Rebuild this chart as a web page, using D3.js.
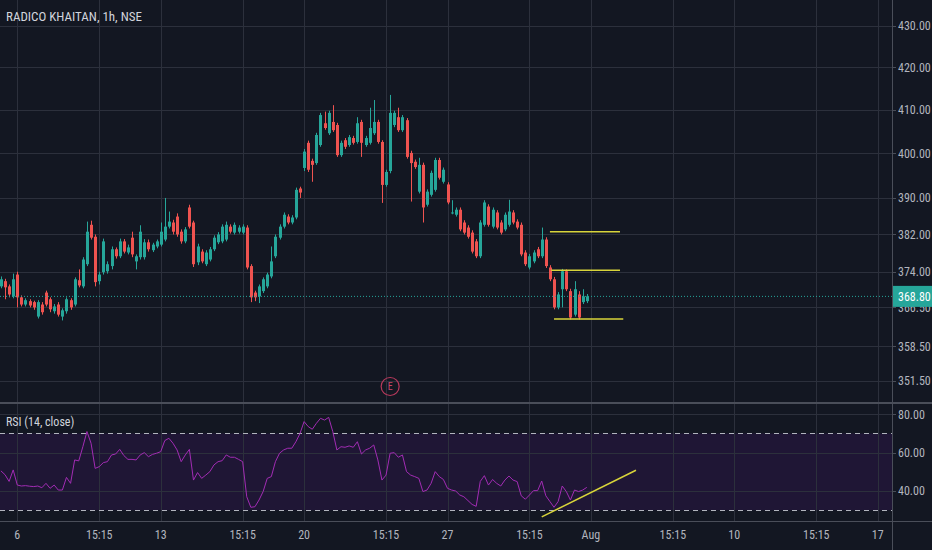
<!DOCTYPE html>
<html>
<head>
<meta charset="utf-8">
<script src="https://cdn.jsdelivr.net/npm/d3@7"></script>
<style>
  body { margin: 0; background: #131722; overflow: hidden; }
  svg text { font-family: "Liberation Sans Narrow", "Roboto Condensed", "DejaVu Sans Condensed", "Roboto", sans-serif; }
</style>
</head>
<body>
<div id="chart"></div>
<script>
let width = 932;
let height = 550;
let axisX = 892;
let mainBottom = 402;
let rsiTop = 404;
let rsiBottom = 521;

// hourly bars, index 0 = Mon 6 Jul 9:15, 7 bars per session
let firstBar = -4;
let opens = [370.9, 372.0, 370.9, 368.8,
  373.4, 368.6, 367.1, 367.8, 367.6, 364.6, 367.1, 369.6, 368.2, 365.7, 367.1, 364.6, 365.7, 368.0,
  367.1, 372.2, 370.9, 375.6, 384.1, 381.5, 372.0, 373.9, 374.1, 375.2, 378.8, 377.3, 380.5, 378.1,
  381.3, 376.2, 377.1, 377.1, 380.3, 378.6, 379.4, 379.8, 380.9, 383.7, 384.6, 385.9, 382.6, 380.5,
  387.9, 384.6, 376.0, 378.3, 375.6, 376.6, 378.8, 380.3, 380.5, 380.9, 383.7, 382.4, 382.6, 382.4,
  383.5, 375.2, 369.6, 368.8, 369.9, 370.9, 373.0, 377.3, 381.3, 383.7, 385.9, 384.6, 385.7, 392.1,
  396.7, 402.4, 398.3, 397.8, 401.9, 406.9, 404.6, 407.2, 406.5, 399.6, 403.0, 401.9, 403.5, 402.6,
  407.2, 401.9, 402.4, 404.6, 407.2, 402.6, 392.9, 396.0, 406.5, 408.3, 405.3, 407.6, 400.1, 398.1,
  391.4, 397.4, 388.5, 390.7, 391.8, 398.5, 393.6, 393.0, 386.8, 386.3, 387.4, 384.6, 383.5, 382.4,
  380.5, 377.3, 384.1, 388.1, 383.7, 386.8, 384.6, 383.1, 384.1, 386.8, 384.8, 384.1, 378.1, 374.9,
  376.2, 378.8, 377.3, 380.9, 374.9, 372.4, 366.5, 370.3, 374.1, 369.9, 365.0, 369.2, 367.6, 367.8];
let highs = [373.0, 372.5, 371.3, 373.6,
  374.0, 369.0, 368.4, 368.2, 367.9, 368.0, 367.6, 370.0, 368.6, 367.2, 367.6, 366.3, 368.6, 368.4,
  372.8, 374.5, 377.1, 384.8, 385.0, 382.0, 374.0, 381.1, 376.2, 379.4, 379.2, 381.1, 381.0, 379.8,
  382.6, 377.7, 384.0, 381.0, 380.9, 380.2, 380.9, 384.6, 390.0, 387.0, 385.2, 386.6, 383.1, 383.6,
  388.5, 385.0, 380.0, 378.8, 378.6, 379.3, 381.8, 382.5, 384.2, 384.8, 384.2, 384.6, 384.0, 384.2,
  384.0, 375.6, 370.0, 371.3, 372.8, 373.8, 379.4, 382.0, 384.2, 386.8, 386.4, 386.2, 392.3, 392.5,
  401.0, 402.9, 398.8, 404.7, 409.3, 409.6, 409.8, 411.1, 407.0, 402.9, 403.5, 404.2, 404.0, 408.3,
  407.7, 404.0, 410.5, 412.3, 407.7, 403.0, 396.3, 413.5, 409.8, 410.5, 408.8, 408.1, 400.6, 398.6,
  399.0, 397.9, 391.9, 396.1, 399.0, 399.0, 396.8, 393.5, 389.5, 387.9, 387.9, 385.1, 384.0, 382.9,
  381.0, 385.1, 389.5, 388.6, 387.9, 387.3, 385.1, 386.8, 389.6, 387.3, 385.3, 384.6, 378.6, 377.8,
  378.6, 379.3, 383.5, 381.4, 375.4, 372.9, 369.7, 374.6, 374.5, 370.4, 372.0, 369.9, 370.3, 369.3];
let lows = [370.5, 368.2, 368.6, 368.4,
  366.5, 366.7, 366.7, 366.5, 366.0, 364.2, 365.0, 366.7, 365.5, 365.2, 364.6, 363.8, 365.2, 366.0,
  366.7, 370.7, 370.5, 375.2, 380.9, 370.9, 371.3, 373.4, 373.6, 374.5, 376.8, 376.9, 377.9, 377.7,
  377.1, 374.5, 376.6, 376.6, 378.3, 378.2, 379.0, 379.4, 380.5, 383.3, 382.0, 381.5, 380.0, 380.1,
  383.3, 375.0, 375.4, 375.8, 375.2, 376.2, 378.4, 379.9, 380.1, 380.5, 382.2, 382.0, 382.2, 382.0,
  374.5, 367.6, 367.8, 367.4, 369.5, 370.5, 372.6, 376.9, 380.9, 383.3, 384.2, 384.2, 385.3, 390.0,
  396.0, 395.8, 393.6, 397.4, 401.5, 405.4, 404.2, 404.9, 399.2, 399.2, 401.0, 401.5, 402.0, 402.2,
  399.2, 401.5, 402.0, 404.2, 402.2, 388.9, 392.5, 395.5, 406.0, 404.9, 404.9, 398.8, 389.2, 396.5,
  391.0, 384.6, 388.1, 390.3, 391.4, 394.1, 393.2, 388.6, 386.4, 385.9, 382.7, 382.0, 381.1, 377.9,
  376.9, 376.9, 383.7, 383.7, 383.3, 383.1, 382.0, 382.7, 383.7, 384.2, 383.1, 377.3, 375.2, 374.5,
  375.8, 376.9, 376.9, 374.8, 372.0, 366.1, 366.1, 366.5, 369.9, 364.0, 364.6, 364.0, 367.2, 367.4];
let closes = [372.4, 370.7, 369.2, 372.4,
  368.6, 367.1, 368.0, 366.9, 366.5, 367.6, 365.5, 367.1, 366.1, 366.7, 365.0, 365.9, 368.2, 366.5,
  372.4, 371.1, 376.6, 382.6, 381.3, 371.8, 373.4, 380.5, 375.6, 378.8, 377.3, 380.5, 378.3, 379.2,
  377.7, 377.3, 382.6, 380.3, 378.8, 379.8, 380.5, 382.6, 383.7, 384.8, 382.6, 382.0, 380.5, 383.1,
  383.7, 375.6, 379.4, 376.2, 378.1, 378.8, 381.3, 382.0, 383.7, 384.1, 382.6, 384.1, 383.5, 383.7,
  374.9, 368.6, 368.6, 370.9, 372.4, 373.4, 376.2, 381.5, 383.7, 386.3, 384.6, 385.7, 391.8, 391.2,
  400.4, 396.3, 397.4, 404.2, 408.8, 405.8, 409.3, 405.3, 399.6, 402.4, 401.5, 403.7, 402.4, 406.9,
  402.4, 403.5, 405.8, 407.2, 402.6, 392.9, 395.8, 409.3, 409.3, 405.3, 408.3, 399.2, 397.8, 396.9,
  397.4, 387.9, 391.4, 395.6, 398.5, 394.5, 396.3, 389.0, 386.8, 387.4, 383.1, 382.4, 381.5, 378.3,
  377.3, 384.6, 389.0, 384.1, 387.4, 383.5, 382.4, 386.3, 387.0, 384.6, 383.5, 377.7, 375.6, 377.3,
  378.1, 377.3, 380.9, 375.2, 372.4, 366.5, 369.2, 374.1, 370.3, 364.4, 370.3, 364.4, 368.8, 368.8];
let rsiValues = [50.5, 48.5, 45.0, 51.0,
  43.1, 42.6, 42.8, 42.5, 42.3, 42.6, 41.7, 44.0, 41.4, 43.1, 40.5, 40.5, 47.1, 44.0,
  56.2, 55.7, 63.1, 71.0, 64.9, 51.8, 52.7, 54.8, 55.3, 58.8, 59.3, 61.7, 58.5, 56.5,
  56.5, 56.2, 58.8, 60.0, 57.9, 59.1, 59.7, 60.5, 66.3, 67.5, 64.9, 61.4, 55.3, 58.8,
  61.7, 45.7, 49.6, 46.6, 48.3, 50.1, 53.6, 55.3, 55.8, 58.8, 57.6, 57.6, 56.5, 55.3,
  37.0, 31.5, 31.8, 35.3, 39.7, 46.6, 47.5, 55.3, 59.7, 61.4, 62.3, 62.3, 65.7, 70.0,
  76.2, 73.6, 72.2, 75.3, 77.9, 77.0, 78.4, 71.0, 61.4, 63.1, 62.8, 63.5, 62.8, 65.7,
  59.3, 61.4, 62.3, 64.0, 56.2, 45.7, 48.3, 59.7, 60.0, 57.6, 58.8, 50.1, 48.3, 47.5,
  46.6, 39.7, 40.5, 44.0, 50.1, 47.5, 46.0, 41.4, 40.5, 40.0, 37.9, 37.0, 35.0, 33.0,
  32.0, 45.0, 48.0, 43.1, 46.0, 44.0, 42.6, 45.7, 47.8, 45.7, 44.9, 37.5, 35.7, 37.9,
  40.2, 40.2, 45.2, 37.5, 34.5, 31.5, 34.5, 42.6, 39.7, 35.3, 40.5, 39.7, 40.5, 41.9];

let priceTicks = [351.5, 358.5, 366.5, 374, 382, 390, 400, 410, 420, 430];
let rsiTicks = [40, 60, 80];
let timeTickBars = [0, 20, 35, 55, 70, 90, 105, 125, 140, 160, 175, 195, 210];
let timeTickLabels = ['6', '15:15', '13', '15:15', '20', '15:15', '27', '15:15', 'Aug', '15:15', '10', '15:15', '17'];

let lastPrice = 368.8;
let earningsBar = 91;
let levelLines = [
  { from: 130.0, to: 147.1, price: 382.6 },
  { from: 130.3, to: 147.1, price: 374.3 },
  { from: 131.0, to: 147.9, price: 364.1 }
];
let rsiTrend = { from: 128.0, to: 151.0, v0: 26.5, v1: 50.8 };

let up = '#26a69a';
let down = '#ef5350';
let gridColor = '#2c303c';
let textColor = '#b2b5be';

let svg = d3.select('#chart')
  .append('svg')
  .attr('width', width)
  .attr('height', height)
  .style('display', 'block');

svg.append('rect').attr('width', width).attr('height', height).attr('fill', '#131722');

let x = d3.scaleLinear().domain([0, 210]).range([17.3, 877.7]);
let y = d3.scaleLog().domain([351.5, 430]).range([381, 26]);
let yr = d3.scaleLinear().domain([40, 80]).range([491, 414.3]);

let defs = svg.append('defs');
defs.append('clipPath').attr('id', 'mainClip')
  .append('rect').attr('x', 0).attr('y', 0).attr('width', axisX).attr('height', mainBottom);
defs.append('clipPath').attr('id', 'rsiClip')
  .append('rect').attr('x', 0).attr('y', rsiTop).attr('width', axisX).attr('height', rsiBottom - rsiTop);

// RSI band 30-70
svg.append('rect')
  .attr('x', 0).attr('width', axisX)
  .attr('y', yr(70)).attr('height', yr(30) - yr(70))
  .attr('fill', 'rgba(153, 21, 255, 0.09)');

// grid
let grid = svg.append('g');
grid.selectAll('.vgrid')
  .data(timeTickBars)
  .enter()
  .append('line')
  .attr('x1', d => Math.round(x(d)) + 0.5)
  .attr('x2', d => Math.round(x(d)) + 0.5)
  .attr('y1', 0)
  .attr('y2', rsiBottom)
  .attr('stroke', gridColor);

grid.selectAll('.hgrid')
  .data(priceTicks)
  .enter()
  .append('line')
  .attr('x1', 0).attr('x2', axisX)
  .attr('y1', d => Math.round(y(d)) + 0.5)
  .attr('y2', d => Math.round(y(d)) + 0.5)
  .attr('stroke', gridColor);

grid.selectAll('.rgrid')
  .data(rsiTicks)
  .enter()
  .append('line')
  .attr('x1', 0).attr('x2', axisX)
  .attr('y1', d => Math.round(yr(d)) + 0.5)
  .attr('y2', d => Math.round(yr(d)) + 0.5)
  .attr('stroke', gridColor);

// candles
let bars = opens.map(function(o, k) {
  return { i: firstBar + k, o: o, h: highs[k], l: lows[k], c: closes[k] };
});

let candles = svg.append('g').attr('clip-path', 'url(#mainClip)');

candles.selectAll('.wick')
  .data(bars)
  .enter()
  .append('line')
  .attr('x1', d => Math.round(x(d.i)) + 0.5)
  .attr('x2', d => Math.round(x(d.i)) + 0.5)
  .attr('y1', d => y(d.h))
  .attr('y2', d => y(d.l))
  .attr('stroke', d => d.c >= d.o ? up : down)
  .attr('stroke-width', 1);

candles.selectAll('.body')
  .data(bars)
  .enter()
  .append('rect')
  .attr('x', d => Math.round(x(d.i)) - 1)
  .attr('width', 3)
  .attr('y', d => y(Math.max(d.o, d.c)))
  .attr('height', d => Math.max(1, Math.abs(y(d.o) - y(d.c))))
  .attr('fill', d => d.c >= d.o ? up : down);

// current price line
svg.append('line')
  .attr('x1', 0).attr('x2', axisX)
  .attr('y1', y(lastPrice)).attr('y2', y(lastPrice))
  .attr('stroke', up)
  .attr('stroke-dasharray', '1,2');

// drawn levels
candles.selectAll('.level')
  .data(levelLines)
  .enter()
  .append('line')
  .attr('x1', d => x(d.from))
  .attr('x2', d => x(d.to))
  .attr('y1', d => y(d.price))
  .attr('y2', d => y(d.price))
  .attr('stroke', '#d8d43a')
  .attr('stroke-width', 1.5);

// earnings marker
let earn = svg.append('g')
  .attr('transform', 'translate(' + x(earningsBar) + ',' + (mainBottom - 15.5) + ')');
earn.append('circle')
  .attr('r', 9)
  .attr('fill', 'none')
  .attr('stroke', '#b8395c')
  .attr('stroke-width', 1.2);
earn.append('text')
  .attr('text-anchor', 'middle')
  .attr('dy', '0.36em')
  .attr('fill', '#c8466a')
  .style('font-size', '10px')
  .text('E');

// RSI pane
let rsiG = svg.append('g').attr('clip-path', 'url(#rsiClip)');

rsiG.selectAll('.band')
  .data([70, 30])
  .enter()
  .append('line')
  .attr('x1', 0).attr('x2', axisX)
  .attr('y1', d => Math.round(yr(d)) + 0.5)
  .attr('y2', d => Math.round(yr(d)) + 0.5)
  .attr('stroke', '#b2b5be')
  .attr('stroke-dasharray', '5,4');

let rsiLine = d3.line()
  .x((d, k) => x(firstBar + k))
  .y(d => yr(d));

rsiG.append('path')
  .datum(rsiValues)
  .attr('d', rsiLine)
  .attr('fill', 'none')
  .attr('stroke', '#a22cb4')
  .attr('stroke-width', 1);

rsiG.append('line')
  .attr('x1', x(rsiTrend.from)).attr('x2', x(rsiTrend.to))
  .attr('y1', yr(rsiTrend.v0)).attr('y2', yr(rsiTrend.v1))
  .attr('stroke', '#d8d43a')
  .attr('stroke-width', 1.5);

// pane borders
svg.append('rect')
  .attr('x', 0).attr('y', mainBottom).attr('width', width).attr('height', 2)
  .attr('fill', '#4a4e59');
svg.append('line')
  .attr('x1', 0).attr('x2', width)
  .attr('y1', rsiBottom + 0.5).attr('y2', rsiBottom + 0.5)
  .attr('stroke', '#4a4e59');
svg.append('line')
  .attr('x1', axisX + 0.5).attr('x2', axisX + 0.5)
  .attr('y1', 0).attr('y2', height)
  .attr('stroke', '#4a4e59');

// price axis
let priceAxis = svg.append('g');
priceAxis.selectAll('.ptick')
  .data(priceTicks)
  .enter()
  .append('line')
  .attr('x1', axisX).attr('x2', axisX + 4)
  .attr('y1', d => Math.round(y(d)) + 0.5)
  .attr('y2', d => Math.round(y(d)) + 0.5)
  .attr('stroke', '#4a4e59');
priceAxis.selectAll('.plabel')
  .data(priceTicks)
  .enter()
  .append('text')
  .attr('x', axisX + 6)
  .attr('y', d => y(d))
  .attr('dy', '0.36em')
  .attr('fill', textColor)
  .style('font-size', '12px')
  .text(d => d3.format('.2f')(d));

priceAxis.selectAll('.rtick')
  .data(rsiTicks)
  .enter()
  .append('line')
  .attr('x1', axisX).attr('x2', axisX + 4)
  .attr('y1', d => Math.round(yr(d)) + 0.5)
  .attr('y2', d => Math.round(yr(d)) + 0.5)
  .attr('stroke', '#4a4e59');
priceAxis.selectAll('.rlabel')
  .data(rsiTicks)
  .enter()
  .append('text')
  .attr('x', axisX + 6)
  .attr('y', d => yr(d))
  .attr('dy', '0.36em')
  .attr('fill', textColor)
  .style('font-size', '12px')
  .text(d => d3.format('.2f')(d));

// last price tag (drawn over the 366.50 label, as on the original)
svg.append('rect')
  .attr('x', axisX + 1).attr('y', y(lastPrice) - 10.5)
  .attr('width', width - axisX).attr('height', 21)
  .attr('fill', up);
svg.append('text')
  .attr('x', axisX + 6)
  .attr('y', y(lastPrice))
  .attr('dy', '0.36em')
  .attr('fill', '#ffffff')
  .style('font-size', '12px')
  .text(d3.format('.2f')(lastPrice));

// time axis
svg.selectAll('.tlabel')
  .data(timeTickBars)
  .enter()
  .append('text')
  .attr('x', d => x(d))
  .attr('y', 539)
  .attr('text-anchor', 'middle')
  .attr('fill', textColor)
  .style('font-size', '12px')
  .text((d, k) => timeTickLabels[k]);

// titles
svg.append('text')
  .attr('x', 6).attr('y', 21)
  .attr('fill', '#d1d4dc')
  .style('font-size', '13px')
  .text('RADICO KHAITAN, 1h, NSE');

svg.append('text')
  .attr('x', 6).attr('y', 426)
  .attr('fill', '#d1d4dc')
  .style('font-size', '12px')
  .text('RSI (14, close)');
</script>
</body>
</html>
